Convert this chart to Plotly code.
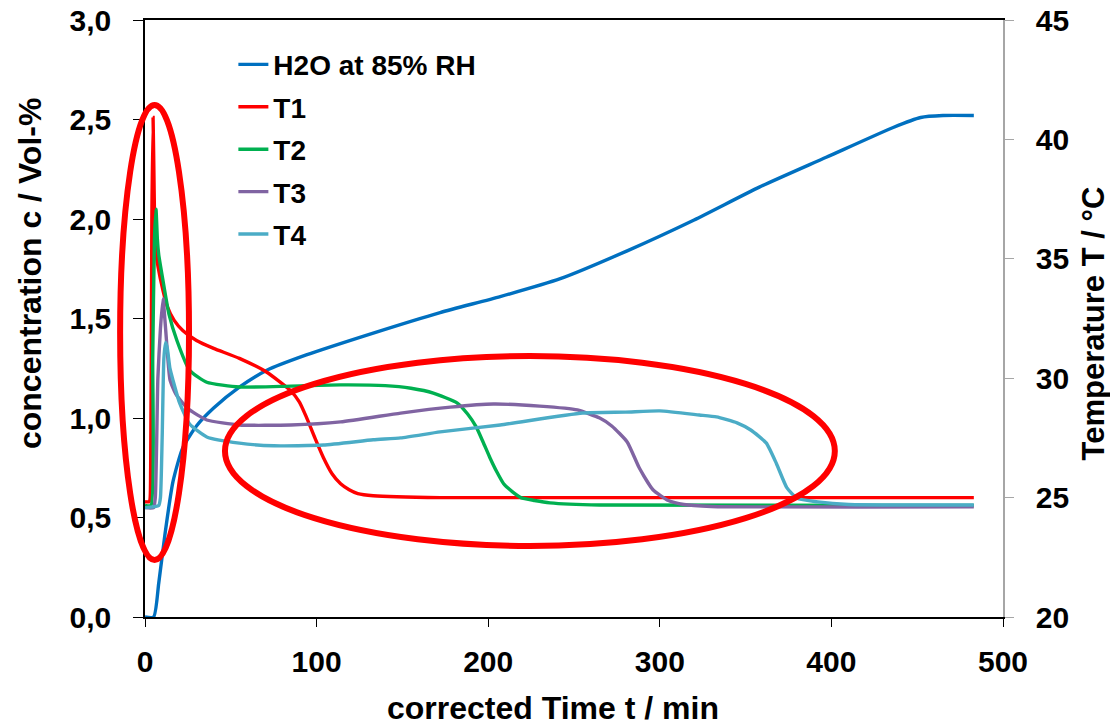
import plotly.graph_objects as go

# ---- data ----
# H2O concentration (left axis, Vol-%)
t_h2o = [0, 5, 8, 11.7, 16.3, 22, 30, 40, 55, 71, 94, 133, 172, 207, 242, 281, 320, 358, 397, 436, 452, 465, 483]
c_h2o = [0, 0, 0.17, 0.42, 0.68, 0.85, 0.96, 1.05, 1.155, 1.24, 1.317, 1.427, 1.53, 1.61, 1.70, 1.84, 1.995, 2.16, 2.31, 2.46, 2.51, 2.52, 2.52]

# Temperatures (right axis, °C)
t_T1 = [0, 2.5, 3.3, 4.0, 4.7, 5.3, 6.0, 7.6, 10.5, 13, 17, 22, 30, 40, 55, 71, 84.5, 90, 94, 99, 104, 109, 114, 119, 124, 133, 172, 483]
T1 = [24.83, 24.83, 26.25, 36.67, 40.92, 38.0, 35.5, 34.67, 33.67, 33.0, 32.42, 32.0, 31.58, 31.25, 30.83, 30.25, 29.5, 29.0, 28.38, 27.5, 26.67, 26.0, 25.58, 25.33, 25.17, 25.08, 25.0, 25.0]

t_T2 = [0, 3.5, 4.5, 5.5, 6.4, 7.2, 8, 10.5, 14, 18.6, 26, 36, 55, 85, 114, 140, 155, 168, 182, 188, 193, 197, 201, 205, 209, 214, 219, 227, 236, 265, 483]
T2 = [24.67, 24.67, 30.83, 35.83, 37.08, 35.83, 35.17, 34.08, 32.67, 31.58, 30.33, 29.83, 29.63, 29.67, 29.72, 29.69, 29.58, 29.38, 28.96, 28.5, 27.96, 27.33, 26.67, 26.08, 25.58, 25.25, 25.0, 24.88, 24.78, 24.69, 24.67]

t_T3 = [0, 5, 6, 7.5, 9, 10.5, 12, 14.6, 18, 22, 26, 36, 55, 85, 114, 149, 178, 203, 230, 252, 265, 272, 281, 288, 296, 305, 314, 330, 483]
T3 = [24.58, 24.58, 25.0, 30.0, 32.08, 33.33, 32.08, 29.92, 29.33, 28.96, 28.67, 28.25, 28.04, 28.04, 28.17, 28.54, 28.79, 28.92, 28.83, 28.67, 28.33, 28.0, 27.33, 26.25, 25.33, 24.88, 24.71, 24.63, 24.61]

t_T4 = [0, 8, 9, 10, 11, 12, 13, 14.5, 16.3, 20, 26, 36, 55, 75, 104, 133, 149, 172, 207, 255, 280, 300, 323, 333, 345, 353, 362, 368, 374, 380, 392, 410, 483]
T4 = [24.58, 24.67, 25.0, 27.5, 30.83, 31.5, 31.25, 30.42, 29.92, 29.0, 28.08, 27.54, 27.28, 27.17, 27.2, 27.42, 27.5, 27.75, 28.04, 28.54, 28.58, 28.63, 28.46, 28.38, 28.13, 27.83, 27.29, 26.42, 25.42, 24.97, 24.82, 24.71, 24.69]

x_ticks = [0, 100, 200, 300, 400, 500]
y_ticks = [0, 0.5, 1.0, 1.5, 2.0, 2.5, 3.0]
y2_ticks = [20, 25, 30, 35, 40, 45]

FONT = "Liberation Sans"
LW = 3.4

fig = go.Figure()
fig.add_trace(go.Scatter(x=t_h2o, y=c_h2o, name="H2O at 85% RH", mode="lines",
                         line=dict(color="#0070C0", width=LW, shape="spline", smoothing=0.6),
                         legendgroup="a"))
series = [("T1", t_T1, T1, "#FF0000"), ("T2", t_T2, T2, "#00B050"),
          ("T3", t_T3, T3, "#8064A2"), ("T4", t_T4, T4, "#4BACC6")]
for name, tx, ty, col in series:
    fig.add_trace(go.Scatter(x=tx, y=ty, name=name, mode="lines", yaxis="y2",
                             line=dict(color=col, width=LW, shape="spline", smoothing=0.5),
                             legendgroup=name))

# red highlight ellipses (paper coordinates relative to plot area)
fig.add_shape(type="circle", xref="paper", yref="paper",
              x0=-0.029, x1=0.0513, y0=0.0955, y1=0.8576,
              line=dict(color="#FF0000", width=6))
fig.add_shape(type="circle", xref="paper", yref="paper",
              x0=0.0932, x1=0.804, y0=0.119, y1=0.437,
              line=dict(color="#FF0000", width=6))

tickfont = dict(family=FONT, size=30, color="black", weight="bold")
titlefont = dict(family=FONT, size=32, color="black", weight="bold")

fig.update_layout(
    width=1110, height=727,
    margin=dict(l=145, r=107, t=20, b=110, autoexpand=False),
    paper_bgcolor="white", plot_bgcolor="white",
    separators=",.",
    showlegend=True,
    legend=dict(x=0.103, y=0.967, xanchor="left", yanchor="top",
                font=dict(family=FONT, size=28, color="black", weight="bold"),
                bgcolor="rgba(0,0,0,0)", tracegroupgap=3),
    xaxis=dict(range=[0, 500], tickvals=x_ticks, ticks="outside", ticklen=8,
               tickcolor="black", tickwidth=1, showline=True, linecolor="black",
               linewidth=1.5, mirror=True, showgrid=False, zeroline=False,
               tickfont=tickfont, ticklabelstandoff=9, automargin=False),
    yaxis=dict(range=[0, 3], tickvals=y_ticks, tickformat=".1f", ticks="outside",
               ticklen=10, tickcolor="black", tickwidth=1, showline=True,
               linecolor="black", linewidth=1.5, showgrid=False, zeroline=False,
               tickfont=tickfont, ticklabelstandoff=16, automargin=False),
    yaxis2=dict(range=[20, 45], tickvals=y2_ticks, overlaying="y", side="right",
                ticks="outside", ticklen=9, tickcolor="#A6A6A6", tickwidth=1,
                showline=True, linecolor="#A6A6A6", linewidth=1.5, showgrid=False,
                zeroline=False, tickfont=tickfont, ticklabelstandoff=16, automargin=False),
)

fig.add_annotation(text="concentration c / Vol-%", xref="paper", yref="paper",
                   x=-0.134, y=0.5745, textangle=-90, showarrow=False,
                   font=titlefont, xanchor="center", yanchor="middle")
fig.add_annotation(text="Temperature T / °C", xref="paper", yref="paper",
                   x=1.1055, y=0.491, textangle=-90, showarrow=False,
                   font=dict(family=FONT, size=31, color="black", weight="bold"),
                   xanchor="center", yanchor="middle")
fig.add_annotation(text="corrected Time t / min", xref="paper", yref="paper",
                   x=0.4755, y=-0.152, showarrow=False,
                   font=titlefont, xanchor="center", yanchor="middle")

fig.write_html("out.html", config={"displayModeBar": False},
               post_script="document.body.style.margin='0';document.body.style.overflow='hidden';")
